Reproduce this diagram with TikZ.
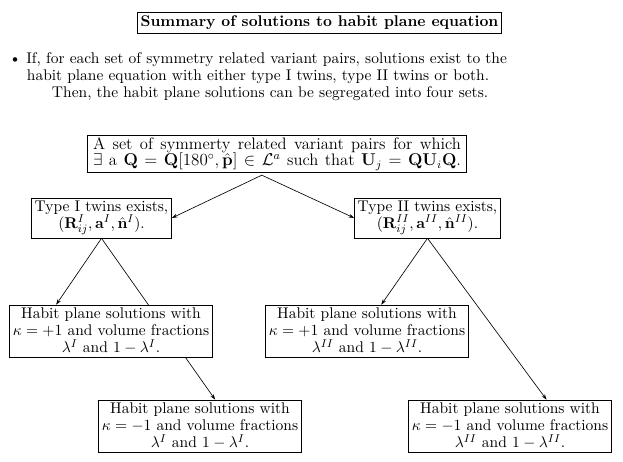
\documentclass[tikz,border=0pt]{standalone}
\usepackage{amsmath,amssymb,bm}
\usetikzlibrary{arrows.meta,calc,backgrounds}
\begin{document}
\begin{tikzpicture}[x=0.704pt,y=-0.704pt,
  every node/.style={font=\fontsize{10.9}{12}\selectfont},
  box/.style={draw,line width=0.5pt,fill=white,align=center,inner xsep=2.2pt,inner ysep=2pt},
  conn/.style={line width=0.45pt,-{Stealth[length=4pt,width=2.6pt]}},
  plain/.style={inner sep=0pt,align=center}]
\useasboundingbox (0,0) rectangle (623,461);
\node[box,inner ysep=2.5pt] (title) at (319.5,22.5) {\textbf{Summary of solutions to habit plane equation}};
\node[plain] (bullet) at (258,77) {\textbullet\ If, for each set of symmetry related variant pairs, solutions exist to the\\
habit plane equation with either type I twins, type II twins or both.\\
\hspace*{17pt}Then, the habit plane solutions can be segregated into four sets.};
\node[box,inner xsep=4pt,inner ysep=1.6pt,font=\fontsize{11.7}{11.6}\selectfont] (top) at (277,154) {\makebox[259pt][s]{A set of symmerty related variant pairs for which}\\
\makebox[259pt][s]{$\exists$ a $\mathbf{Q}=\mathbf{Q}[180^\circ,\hat{\mathbf{p}}]\in\mathcal{L}^a$ such that $\mathbf{U}_j=\mathbf{Q}\mathbf{U}_i\mathbf{Q}$.}};
\node[box] (t1) at (101.5,218) {Type I twins exists,\\ $(\mathbf{R}_{ij}^{I},\mathbf{a}^{I},\hat{\mathbf{n}}^{I})$.};
\node[box] (t2) at (427.5,218) {Type II twins exists,\\ $(\mathbf{R}_{ij}^{II},\mathbf{a}^{II},\hat{\mathbf{n}}^{II})$.};
\node[box] (k1) at (111,331) {Habit plane solutions with\\ $\kappa=+1$ and volume fractions\\ $\lambda^{I}$ and $1-\lambda^{I}$.};
\node[box] (k2) at (367,331) {Habit plane solutions with\\ $\kappa=+1$ and volume fractions\\ $\lambda^{II}$ and $1-\lambda^{II}$.};
\node[box] (k3) at (200,426) {Habit plane solutions with\\ $\kappa=-1$ and volume fractions\\ $\lambda^{I}$ and $1-\lambda^{I}$.};
\node[box] (k4) at (510,426) {Habit plane solutions with\\ $\kappa=-1$ and volume fractions\\ $\lambda^{II}$ and $1-\lambda^{II}$.};
\coordinate (apex) at ($(top.south west)!0.46!(top.south east)+(0,2)$);
\begin{pgfonlayer}{background}
\draw[conn] (apex) -- (t1.east);
\draw[conn] (apex) -- (t2.west);
\draw[conn] (t1.south) -- ($(k1.north west)!0.23!(k1.north east)$);
\draw[conn] (t1.south) -- ($(k3.north west)!0.575!(k3.north east)$);
\draw[conn] (t2.south) -- ($(k2.north west)!0.57!(k2.north east)$);
\draw[conn] (t2.south) -- ($(k4.north west)!0.68!(k4.north east)$);
\end{pgfonlayer}
\end{tikzpicture}
\end{document}
